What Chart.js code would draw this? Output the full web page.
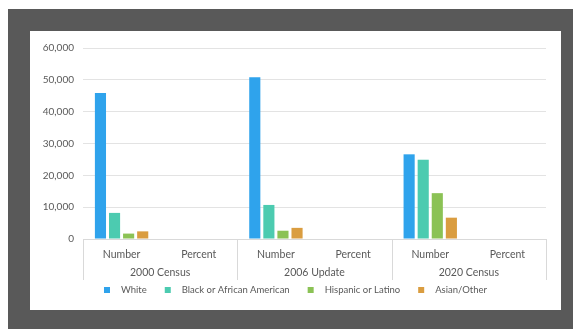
<!DOCTYPE html>
<html lang="en">
<head>
<meta charset="UTF-8">
<title>Population by Race</title>
<style>
  body { margin: 0; background: #fff; }
  .frame {
    position: absolute; left: 8px; top: 9px;
    width: 565px; height: 320px;
    background: #595959;
  }
  .chart-box {
    position: absolute; left: 22px; top: 22px;
    width: 531px; height: 279px;
    background: #fff;
  }
</style>
<script src="https://cdn.jsdelivr.net/npm/chart.js"></script>
</head>
<body>
<div class="frame">
  <div class="chart-box"><canvas id="raceChart"></canvas></div>
</div>
<script>
// categories: each census year split into Number / Percent
const groups = ['2000 Census', '2006 Update', '2020 Census'];
const measures = ['Number', 'Percent'];

// one value per (group, measure) pair
const white    = [45900, 0, 50800, 0, 26600, 0];
const black    = [8200, 0, 10700, 0, 24900, 0];
const hispanic = [1700, 0, 2600, 0, 14400, 0];
const asian    = [2400, 0, 3500, 0, 6700, 0];

const seriesNames = ['White', 'Black or African American', 'Hispanic or Latino', 'Asian/Other'];
const colors = ['#2fa3ec', '#4ccbb0', '#8bc255', '#da9d40'];

const yTicks = [0, 10000, 20000, 30000, 40000, 50000, 60000];

const FONT = 'Lato';
const TEXT = '#595959';

const labels = groups.flatMap(() => measures);

// vertical dividers and year labels under the x axis
const groupAxis = {
  id: 'groupAxis',
  afterDraw(chart) {
    const x = chart.scales.x;
    const ctx = chart.ctx;
    ctx.save();
    ctx.strokeStyle = '#d9d9d9';
    ctx.lineWidth = 1;
    for (let i = 0; i <= groups.length; i++) {
      let px;
      if (i === 0) px = x.left;
      else if (i === groups.length) px = x.right;
      else px = (x.getPixelForValue(2 * i - 1) + x.getPixelForValue(2 * i)) / 2;
      px = Math.round(px) + 0.5;
      ctx.beginPath();
      ctx.moveTo(px, x.top);
      ctx.lineTo(px, x.bottom);
      ctx.stroke();
    }
    ctx.fillStyle = TEXT;
    ctx.font = '10.5px ' + FONT;
    ctx.textAlign = 'center';
    ctx.textBaseline = 'middle';
    groups.forEach((g, i) => {
      const cx = (x.getPixelForValue(2 * i) + x.getPixelForValue(2 * i + 1)) / 2;
      ctx.fillText(g, cx, x.bottom - 7);
    });
    ctx.restore();
  }
};

// legend row: small square, then name
const legendRow = {
  id: 'legendRow',
  afterDraw(chart) {
    const ctx = chart.ctx;
    ctx.save();
    ctx.font = '9.5px ' + FONT;
    const box = 6, gapText = 11, gapItem = 18;
    const items = chart.data.datasets.map(ds => ({
      label: ds.label, color: ds.backgroundColor, w: ctx.measureText(ds.label).width
    }));
    const total = items.reduce((s, it) => s + box + gapText + it.w, 0) + gapItem * (items.length - 1);
    let xPos = (chart.width - total) / 2;
    const y = chart.height - 20;
    ctx.textBaseline = 'middle';
    ctx.textAlign = 'left';
    items.forEach(it => {
      ctx.fillStyle = it.color;
      ctx.fillRect(xPos, y - box / 2, box, box);
      xPos += box + gapText;
      ctx.fillStyle = TEXT;
      ctx.fillText(it.label, xPos, y);
      xPos += it.w + gapItem;
    });
    ctx.restore();
  }
};

const seriesData = [white, black, hispanic, asian];

new Chart(document.getElementById('raceChart'), {
  type: 'bar',
  data: {
    labels: labels,
    datasets: seriesNames.map((name, i) => ({
      label: name,
      data: seriesData[i],
      backgroundColor: colors[i],
      borderWidth: 0,
      categoryPercentage: 0.73,
      barPercentage: 0.79
    }))
  },
  options: {
    responsive: true,
    maintainAspectRatio: false,
    animation: false,
    layout: { padding: { top: 17, right: 15, bottom: 30, left: 0 } },
    plugins: {
      legend: { display: false },
      tooltip: { enabled: false }
    },
    scales: {
      x: {
        grid: { display: false, drawTicks: false },
        border: { display: true, color: '#d9d9d9', width: 1 },
        ticks: { color: TEXT, font: { family: FONT, size: 10.5 }, padding: 9, maxRotation: 0, autoSkip: false },
        afterFit(scale) { scale.height = 41; }
      },
      y: {
        min: 0,
        max: 60000,
        afterBuildTicks(scale) { scale.ticks = yTicks.map(v => ({ value: v })); },
        grid: { color: '#e3e3e3', lineWidth: 1, drawTicks: false },
        border: { display: false },
        ticks: {
          color: TEXT,
          font: { family: FONT, size: 10 },
          padding: 9,
          callback: v => v.toLocaleString('en-US')
        },
        afterFit(scale) { scale.width = 53; }
      }
    }
  },
  plugins: [groupAxis, legendRow]
});
</script>
</body>
</html>
